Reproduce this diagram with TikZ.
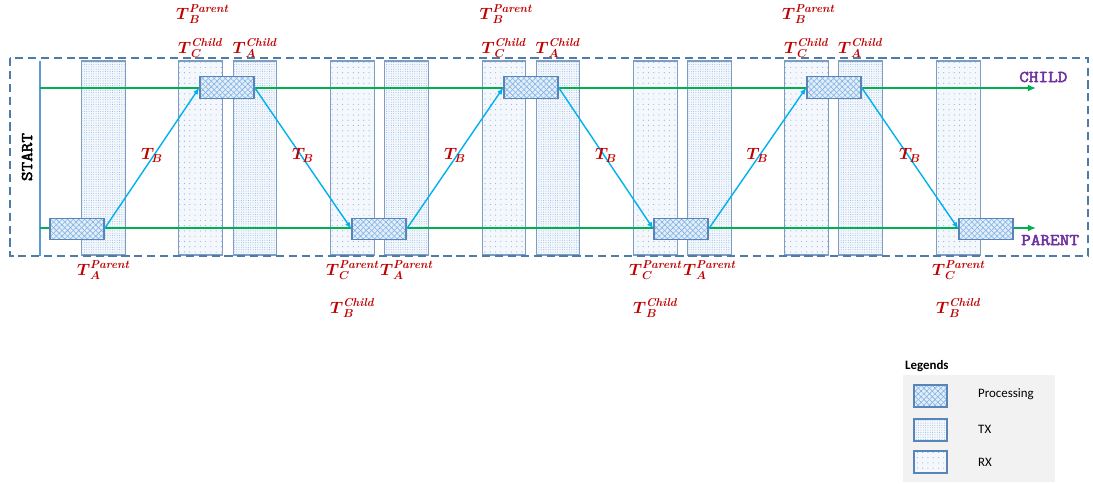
\RequirePackage{fix-cm}
\documentclass[tikz,border=0pt]{standalone}
\usepackage{amsmath}
\usepackage{fontspec}
\newfontfamily\legendfont{Carlito}
\newfontfamily\rolefont{Latin Modern Mono}[AutoFakeBold=3, FakeStretch=1.14]
\usetikzlibrary{arrows.meta, positioning, patterns, patterns.meta}

\definecolor{framecol}{RGB}{79,123,168}
\definecolor{colline}{RGB}{125,157,196}
\definecolor{colfill}{RGB}{244,248,252}
\definecolor{dotcol}{RGB}{140,182,226}
\definecolor{procline}{RGB}{88,132,186}
\definecolor{procfill}{RGB}{226,238,249}
\definecolor{hatchcol}{RGB}{130,178,225}
\definecolor{linkgreen}{RGB}{0,176,80}
\definecolor{msgcyan}{RGB}{0,176,240}
\definecolor{startblue}{RGB}{91,155,213}
\definecolor{labred}{RGB}{192,0,0}
\definecolor{rolepurple}{RGB}{112,48,160}
\definecolor{legendbg}{RGB}{242,242,242}

\newcommand{\tlbl}[2]{$\boldsymbol{T}^{\textbf{\textit{#2}}}_{\boldsymbol{#1}}$}

\tikzset{
  slot/.style={draw=colline, line width=1pt, inner sep=0pt,
    minimum width=1.3cm, minimum height=5.82cm, preaction={fill=colfill}},
  txcol/.style={slot, pattern={Dots[radius=0.4pt, distance=2pt]}, pattern color=dotcol},
  rxcol/.style={slot, pattern={Dots[radius=0.5pt, distance=4.5pt]}, pattern color=dotcol},
  proc/.style={draw=procline, line width=1pt, inner sep=0pt,
    minimum width=1.62cm, minimum height=0.65cm,
    preaction={fill=procfill},
    preaction={pattern={Lines[angle=-45, distance=3.4pt, line width=0.5pt]}, pattern color=hatchcol},
    pattern={Lines[angle=45, distance=3.4pt, line width=0.5pt]}, pattern color=hatchcol},
  timeline/.style={draw=linkgreen, line width=2pt, -{Latex[length=7pt, width=6pt]}},
  msg/.style={draw=msgcyan, line width=1.2pt, -{Latex[length=6pt, width=4.5pt]}},
  startline/.style={draw=startblue, line width=1.8pt},
  frame/.style={draw=framecol, line width=1.3pt, dash pattern=on 7pt off 4pt},
  tlab/.style={text=labred, font=\fontsize{14}{17}\selectfont, inner sep=0pt},
  tb/.style={tlab, midway, yshift=0.09cm},
  rolelab/.style={font=\rolefont\bfseries\fontsize{14}{16}\selectfont, inner sep=0pt},
  legtext/.style={font=\legendfont\fontsize{11}{13}\selectfont, inner sep=0pt, anchor=west},
}

\begin{document}
\begin{tikzpicture}[x=0.03cm, y=-0.03cm]
\useasboundingbox (0,0) rectangle (1093,484);

% TX and RX slots
\foreach \n/\x in {1/103.5, 2/255, 3/406.5, 4/558, 5/709.5, 6/860.5}
  \node[txcol] (tx\n) at (\x,158) {};
\foreach \n/\x in {1/200.5, 2/352.5, 3/504, 4/655.5, 5/806.5, 6/958.5}
  \node[rxcol] (rx\n) at (\x,158) {};

% start line and time lines
\coordinate (st-top) at (40,61);
\coordinate (st-bot) at (40,256);
\draw[startline] (st-top) -- (st-bot);
\node[rolelab, rotate=90] (start) at (27,157) {START};

\coordinate (child-s) at (40,88);
\coordinate (child-e) at (1036,88);
\coordinate (par-s) at (40,228);
\coordinate (par-e) at (1036,228);
\draw[timeline] (child-s) -- (child-e);
\draw[timeline] (par-s) -- (par-e);
\node[rolelab, text=rolepurple, anchor=west] (child) at (1019,77) {CHILD};
\node[rolelab, text=rolepurple, anchor=west] (parent) at (1021,240) {PARENT};

% processing blocks
\foreach \n/\x in {1/77, 2/379, 3/681, 4/986}
  \node[proc] (p\n) at (\x,229) {};
\foreach \n/\x in {1/227, 2/531, 3/834}
  \node[proc] (c\n) at (\x,87.5) {};

% messages
\draw[msg] (p1.east) -- node[tb] {$\boldsymbol{T_B}$} (c1.west);
\draw[msg] (c1.east) -- node[tb] {$\boldsymbol{T_B}$} (p2.west);
\draw[msg] (p2.east) -- node[tb] {$\boldsymbol{T_B}$} (c2.west);
\draw[msg] (c2.east) -- node[tb] {$\boldsymbol{T_B}$} (p3.west);
\draw[msg] (p3.east) -- node[tb] {$\boldsymbol{T_B}$} (c3.west);
\draw[msg] (c3.east) -- node[tb] {$\boldsymbol{T_B}$} (p4.west);

% dashed frame
\draw[frame] (10,58) rectangle (1088,256);

% timing labels, child side
\foreach \n/\xc/\xa in {1/200.5/255, 2/504/558, 3/806.5/860.5} {
  \node[tlab] (tbp\n) at (\xc+2,14) {\tlbl{B}{Parent}};
  \node[tlab] (tcc\n) at (\xc,48) {\tlbl{C}{Child}};
  \node[tlab] (tac\n) at (\xa,48) {\tlbl{A}{Child}};
}
% timing labels, parent side
\node[tlab] (tap1) at (103.5,270) {\tlbl{A}{Parent}};
\foreach \n/\xc/\xa in {2/352.5/406.5, 3/655.5/709.5} {
  \node[tlab] (tcp\n) at (\xc,270) {\tlbl{C}{Parent}};
  \node[tlab] (tap\n) at (\xa,270) {\tlbl{A}{Parent}};
}
\node[tlab] (tcp4) at (958.5,270) {\tlbl{C}{Parent}};
\foreach \n/\x in {1/352.5, 2/655.5, 3/958.5}
  \node[tlab] (tbc\n) at (\x,308) {\tlbl{B}{Child}};

% legend
\fill[legendbg] (903,375) rectangle (1055,482);
\node[legtext, font=\legendfont\bfseries\fontsize{11}{13}\selectfont] (legtitle) at (905,366) {Legends};
\node[proc, minimum width=0.99cm, minimum height=0.66cm] (lgproc) at (930.5,396) {};
\node[txcol, draw=procline, minimum width=0.99cm, minimum height=0.66cm] (lgtx) at (930.5,430) {};
\node[rxcol, draw=procline, minimum width=0.99cm, minimum height=0.66cm] (lgrx) at (930.5,462) {};
\node[legtext] (lgproctxt) at (978,394) {Processing};
\node[legtext] (lgtxtxt) at (978,429) {TX};
\node[legtext] (lgrxtxt) at (978,462) {RX};

\end{tikzpicture}
\end{document}
